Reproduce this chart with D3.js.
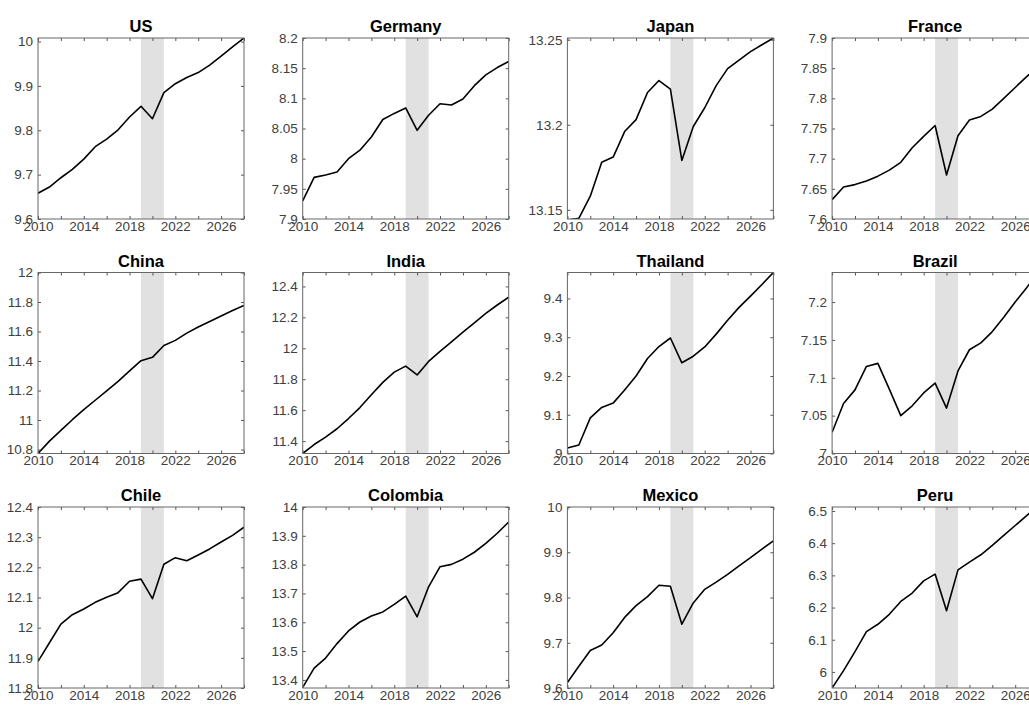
<!DOCTYPE html>
<html>
<head>
<meta charset="utf-8">
<script src="https://cdn.jsdelivr.net/npm/d3@7"></script>
<style>
body { margin: 0; background: #fff; overflow: hidden; }
svg { display: block; font-family: "Liberation Sans", Arial, sans-serif; }
.title { font-weight: bold; font-size: 16.5px; fill: #000; }
.tick text { fill: #404040; font-size: 13.5px; }
.tick line { stroke: #555; }
</style>
</head>
<body>
<div id="chart"></div>
<script>
// get the data
var years = [2010, 2011, 2012, 2013, 2014, 2015, 2016, 2017, 2018, 2019,
             2020, 2021, 2022, 2023, 2024, 2025, 2026, 2027, 2028];

var countries = ["US", "Germany", "Japan", "France",
                 "China", "India", "Thailand", "Brazil",
                 "Chile", "Colombia", "Mexico", "Peru"];

var us       = [9.658, 9.672, 9.693, 9.712, 9.735, 9.763, 9.780, 9.801, 9.830, 9.854, 9.826, 9.885, 9.905, 9.919, 9.930, 9.947, 9.967, 9.988, 10.008];
var germany  = [7.930, 7.969, 7.973, 7.978, 8.000, 8.014, 8.036, 8.065, 8.075, 8.084, 8.047, 8.072, 8.091, 8.089, 8.099, 8.121, 8.139, 8.151, 8.161];
var japan    = [13.144, 13.145, 13.158, 13.178, 13.181, 13.196, 13.203, 13.219, 13.226, 13.221, 13.179, 13.199, 13.210, 13.223, 13.233, 13.238, 13.243, 13.247, 13.251];
var france   = [7.632, 7.653, 7.657, 7.663, 7.671, 7.681, 7.694, 7.718, 7.737, 7.755, 7.673, 7.738, 7.764, 7.770, 7.782, 7.800, 7.818, 7.836, 7.852];
var china    = [10.773, 10.857, 10.930, 11.002, 11.070, 11.134, 11.198, 11.262, 11.333, 11.402, 11.425, 11.505, 11.540, 11.589, 11.630, 11.668, 11.705, 11.743, 11.777];
var india    = [11.320, 11.378, 11.426, 11.480, 11.546, 11.617, 11.700, 11.780, 11.846, 11.885, 11.828, 11.915, 11.980, 12.041, 12.104, 12.165, 12.226, 12.280, 12.330];
var thailand = [9.014, 9.022, 9.092, 9.119, 9.130, 9.164, 9.200, 9.245, 9.276, 9.298, 9.234, 9.251, 9.275, 9.308, 9.344, 9.377, 9.406, 9.436, 9.467];
var brazil   = [7.028, 7.066, 7.084, 7.115, 7.119, 7.085, 7.050, 7.063, 7.080, 7.093, 7.060, 7.109, 7.137, 7.146, 7.161, 7.180, 7.200, 7.219, 7.239];
var chile    = [11.888, 11.950, 12.012, 12.043, 12.062, 12.084, 12.101, 12.116, 12.154, 12.161, 12.096, 12.210, 12.232, 12.222, 12.241, 12.261, 12.284, 12.306, 12.333];
var colombia = [13.374, 13.441, 13.476, 13.526, 13.570, 13.601, 13.622, 13.636, 13.662, 13.691, 13.619, 13.723, 13.793, 13.801, 13.819, 13.843, 13.874, 13.909, 13.948];
var mexico   = [9.612, 9.648, 9.683, 9.695, 9.722, 9.756, 9.782, 9.802, 9.827, 9.825, 9.741, 9.788, 9.818, 9.834, 9.851, 9.870, 9.888, 9.907, 9.925];
var peru     = [5.950, 6.004, 6.063, 6.125, 6.148, 6.179, 6.219, 6.245, 6.283, 6.304, 6.190, 6.317, 6.341, 6.364, 6.393, 6.424, 6.455, 6.486, 6.515];

var series = [us, germany, japan, france, china, india, thailand, brazil, chile, colombia, mexico, peru];

// y limits of each panel
var yDomains = [[9.6, 10.008], [7.9, 8.2], [13.1446, 13.251], [7.6, 7.9],
                [10.773, 12], [11.32, 12.49], [9, 9.467], [7, 7.239],
                [11.8, 12.4], [13.372, 14], [9.6, 10], [5.95, 6.5125]];

// y tick labels of each panel
var yTicks = [["9.6", "9.7", "9.8", "9.9", "10"],
              ["7.9", "7.95", "8", "8.05", "8.1", "8.15", "8.2"],
              ["13.15", "13.2", "13.25"],
              ["7.6", "7.65", "7.7", "7.75", "7.8", "7.85", "7.9"],
              ["10.8", "11", "11.2", "11.4", "11.6", "11.8", "12"],
              ["11.4", "11.6", "11.8", "12", "12.2", "12.4"],
              ["9", "9.1", "9.2", "9.3", "9.4"],
              ["7", "7.05", "7.1", "7.15", "7.2"],
              ["11.8", "11.9", "12", "12.1", "12.2", "12.3", "12.4"],
              ["13.4", "13.5", "13.6", "13.7", "13.8", "13.9", "14"],
              ["9.6", "9.7", "9.8", "9.9", "10"],
              ["6", "6.1", "6.2", "6.3", "6.4", "6.5"]];

var xTicks = [2010, 2012, 2014, 2016, 2018, 2020, 2022, 2024, 2026, 2028];
var xLabels = [2010, 2014, 2018, 2022, 2026];
var shadeYears = [2019, 2021];

var width = 1029, height = 705;
var w = 206, h = 181;

var svg = d3.select("#chart").append("svg")
    .attr("width", width)
    .attr("height", height);

var x = d3.scaleLinear().domain([2010, 2028]).range([0, w]);

countries.forEach(function (name, i) {
    var col = i % 4, row = Math.floor(i / 4);
    var left = 38 + col * 264.7, top = 38 + row * 234.5;

    var y = d3.scaleLinear().domain(yDomains[i]).range([h, 0]);
    var ticks = yTicks[i].map(Number);

    var g = svg.append("g").attr("transform", "translate(" + left + "," + top + ")");

    g.append("clipPath").attr("id", "clip" + i)
        .append("rect").attr("width", w).attr("height", h);

    // shaded period
    g.append("rect")
        .attr("x", x(shadeYears[0]))
        .attr("width", x(shadeYears[1]) - x(shadeYears[0]))
        .attr("height", h)
        .attr("fill", "#e1e1e1");

    // the line
    var line = d3.line()
        .x(function (d, k) { return x(years[k]); })
        .y(function (d) { return y(d); });

    g.append("path")
        .datum(series[i])
        .attr("clip-path", "url(#clip" + i + ")")
        .attr("fill", "none")
        .attr("stroke", "#000")
        .attr("stroke-width", 1.6)
        .attr("stroke-linejoin", "round")
        .attr("d", line);

    // axes, ticks pointing inwards
    g.append("g")
        .attr("transform", "translate(0," + h + ")")
        .call(d3.axisBottom(x).tickValues(xTicks).tickSize(-3).tickPadding(2)
            .tickFormat(function (d) { return xLabels.indexOf(d) >= 0 ? d : ""; }))
        .call(function (a) { a.select(".domain").remove(); });

    g.append("g")
        .call(d3.axisTop(x).tickValues(xTicks).tickSize(-3).tickFormat(""))
        .call(function (a) { a.select(".domain").remove(); });

    g.append("g")
        .call(d3.axisLeft(y).tickValues(ticks).tickSize(-3).tickPadding(5)
            .tickFormat(function (d, k) { return yTicks[i][k]; }))
        .call(function (a) { a.select(".domain").remove(); });

    g.append("g")
        .attr("transform", "translate(" + w + ",0)")
        .call(d3.axisRight(y).tickValues(ticks).tickSize(-3).tickFormat(""))
        .call(function (a) { a.select(".domain").remove(); });

    g.selectAll(".tick text").attr("font-family", null).attr("font-size", null);

    // box
    g.append("rect")
        .attr("width", w)
        .attr("height", h)
        .attr("fill", "none")
        .attr("stroke", "#666")
        .attr("stroke-width", 1);

    g.append("text")
        .attr("class", "title")
        .attr("x", w / 2)
        .attr("y", -6)
        .attr("text-anchor", "middle")
        .text(name);
});
</script>
</body>
</html>
